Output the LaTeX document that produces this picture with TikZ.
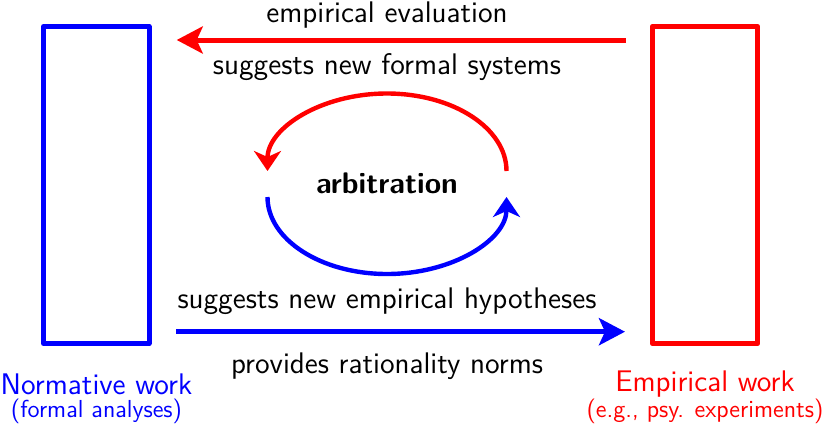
\documentclass[tikz,border=0pt]{standalone}
\usepackage{tikz}
\usetikzlibrary{arrows.meta}
\usetikzlibrary{positioning}

\begin{document}
\begin{tikzpicture}
[x=0.5pt,y=0.5pt,every node/.style={font=\sffamily\fontsize{14.9}{17}\selectfont},
 workbox/.style={draw,line width=2.5pt,line join=round,minimum width=52.75pt,minimum height=158.5pt,inner sep=0pt},
 sublabel/.style={font=\sffamily\fontsize{12.3}{14}\selectfont},
 flow/.style={line width=2.5pt,-{Stealth[length=13pt,width=13.5pt,inset=3pt]}},
 looparc/.style={line width=2.2pt,-{Stealth[length=10pt,width=13.5pt,inset=3pt]}}]

  \useasboundingbox (0,0) rectangle (824,425);

  % the two kinds of work
  \node[workbox,blue] (norm) at (96.25,240) {};
  \node[workbox,red] (emp) at (705,240) {};
  \node[blue] (normlabel) at (96.5,41) {Normative work};
  \node[blue,sublabel] (normsub) at (96.5,14) {(formal analyses)};
  \node[red] (emplabel) at (705,41) {Empirical work};
  \node[red,sublabel] (empsub) at (705,14) {(e.g., psy. experiments)};

  % exchange between them
  \coordinate (evalstart) at (625.7,385);
  \coordinate (evalend) at (176.7,385);
  \coordinate (hypstart) at (176,93.3);
  \coordinate (hypend) at (625,93.3);
  \draw[flow,red] (evalstart) -- (evalend);
  \draw[flow,blue] (hypstart) -- (hypend);

  \node (eval) at (387,410) {empirical evaluation};
  \node (formal) at (387,358) {suggests new formal systems};
  \node (hyp) at (387,124) {suggests new empirical hypotheses};
  \node (norms) at (387,59) {provides rationality norms};

  % arbitration loop
  \node[font=\sffamily\bfseries\fontsize{14.9}{17}\selectfont] (arb) at (387,242) {arbitration};
  \coordinate (redstart) at (506.5,254);
  \coordinate (bluestart) at (267.5,228);
  \draw[looparc,red] (redstart) arc[start angle=0,end angle=180,x radius=119.5,y radius=77.5];
  \draw[looparc,blue] (bluestart) arc[start angle=180,end angle=360,x radius=119.5,y radius=77];
\end{tikzpicture}
\end{document}
